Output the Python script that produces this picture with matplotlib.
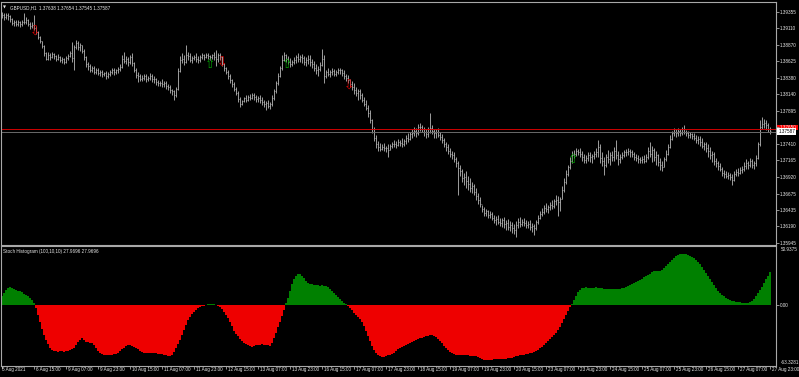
import matplotlib

matplotlib.use("Agg")

import matplotlib.pyplot as plt
from matplotlib.collections import LineCollection
from matplotlib.patches import Rectangle
from matplotlib.transforms import blended_transform_factory

plt.rcParams["font.family"] = ["Liberation Sans", "DejaVu Sans"]

# prices are stored in pips above BASE
BASE = 1.35
PIP = 0.0001

high = [
    435, 433, 434, 433, 430, 426, 424, 423, 424, 422,
    424, 434, 427, 425, 420, 421, 431, 414, 407, 399,
    393, 386, 376, 376, 374, 376, 375, 372, 373, 370,
    369, 367, 370, 373, 378, 391, 387, 394, 392, 390,
    387, 380, 370, 362, 358, 356, 355, 352, 353, 350,
    350, 347, 348, 346, 350, 352, 353, 351, 354, 358,
    372, 376, 370, 368, 372, 374, 362, 352, 346, 344,
    342, 344, 343, 340, 345, 343, 340, 338, 335, 334,
    336, 333, 333, 329, 328, 322, 320, 324, 352, 370,
    374, 372, 387, 376, 374, 370, 372, 374, 370, 372,
    374, 373, 375, 374, 372, 373, 376, 379, 375, 374,
    370, 360, 354, 349, 343, 337, 332, 325, 318, 310,
    306, 310, 313, 312, 314, 316, 315, 313, 311, 312,
    310, 306, 304, 305, 303, 312, 322, 334, 345, 356,
    372, 376, 373, 370, 367, 364, 368, 372, 374, 371,
    373, 370, 368, 371, 372, 366, 363, 358, 356, 362,
    380, 371, 350, 352, 349, 353, 351, 349, 352, 353,
    351, 349, 344, 342, 336, 334, 330, 325, 322, 321,
    316, 310, 305, 298, 290, 278, 265, 254, 245, 242,
    240, 242, 238, 240, 241, 244, 246, 245, 248, 247,
    250, 248, 254, 256, 258, 262, 266, 264, 270, 272,
    269, 266, 262, 265, 286, 268, 263, 262, 264, 258,
    255, 250, 244, 240, 234, 230, 228, 222, 215, 210,
    204, 198, 200, 194, 190, 184, 182, 175, 168, 162,
    150, 148, 144, 143, 141, 140, 136, 134, 136, 131,
    132, 133, 128, 130, 127, 126, 122, 127, 131, 133,
    130, 132, 129, 127, 128, 124, 122, 128, 136, 142,
    146, 150, 154, 150, 155, 158, 160, 166, 164, 162,
    178, 190, 202, 210, 222, 230, 232, 235, 233, 234,
    230, 226, 224, 228, 229, 226, 230, 234, 246, 240,
    228, 222, 226, 232, 228, 230, 236, 246, 230, 226,
    228, 232, 233, 234, 233, 231, 228, 226, 224, 222,
    223, 225, 226, 236, 243, 238, 235, 230, 226, 220,
    216, 222, 232, 240, 254, 260, 264, 262, 264, 263,
    266, 268, 261, 259, 258, 257, 256, 254, 252, 252,
    250, 244, 244, 240, 236, 230, 228, 220, 215, 212,
    206, 202, 200, 199, 198, 196, 200, 204, 205, 206,
    208, 214, 218, 216, 220, 218, 216, 224, 244, 276,
    280, 278, 276, 272, 265,
]

low = [
    426, 424, 425, 424, 421, 416, 415, 414, 415, 413,
    415, 417, 418, 414, 410, 411, 408, 402, 395, 389,
    382, 370, 364, 365, 364, 367, 366, 363, 364, 361,
    360, 358, 360, 365, 368, 362, 350, 381, 379, 378,
    374, 365, 354, 350, 346, 347, 344, 343, 342, 340,
    339, 340, 337, 338, 341, 343, 342, 344, 345, 348,
    352, 360, 359, 356, 359, 356, 346, 338, 332, 333,
    333, 335, 332, 333, 335, 332, 331, 328, 326, 326,
    325, 324, 322, 320, 316, 312, 306, 310, 320, 346,
    360, 357, 360, 364, 361, 360, 364, 362, 360, 362,
    366, 365, 367, 366, 364, 366, 364, 355, 362, 364,
    355, 348, 343, 337, 330, 325, 318, 313, 303, 295,
    298, 302, 303, 304, 305, 307, 306, 303, 302, 301,
    298, 295, 291, 294, 292, 296, 306, 316, 328, 339,
    350, 363, 362, 358, 354, 355, 358, 360, 362, 361,
    360, 357, 356, 358, 356, 352, 348, 343, 341, 348,
    356, 331, 338, 340, 339, 342, 340, 340, 343, 344,
    341, 337, 333, 331, 325, 320, 314, 311, 305, 307,
    302, 296, 290, 281, 272, 257, 245, 234, 230, 230,
    231, 230, 229, 221, 231, 234, 236, 235, 237, 237,
    236, 238, 241, 244, 246, 250, 253, 251, 254, 260,
    258, 252, 249, 251, 256, 255, 250, 250, 251, 247,
    242, 236, 230, 226, 222, 219, 214, 207, 165, 194,
    185, 180, 176, 172, 170, 168, 165, 158, 152, 147,
    140, 135, 134, 132, 131, 128, 124, 121, 122, 119,
    118, 117, 114, 113, 112, 110, 108, 103, 116, 118,
    119, 120, 117, 116, 113, 111, 106, 114, 122, 130,
    134, 137, 140, 139, 143, 144, 146, 150, 135, 142,
    160, 170, 182, 194, 204, 212, 220, 223, 224, 222,
    215, 212, 213, 216, 214, 212, 218, 221, 222, 212,
    208, 195, 206, 212, 210, 215, 216, 218, 209, 213,
    218, 222, 223, 225, 222, 221, 217, 215, 213, 212,
    213, 212, 214, 218, 221, 214, 216, 210, 208, 202,
    200, 206, 215, 224, 234, 246, 252, 251, 253, 252,
    254, 255, 252, 250, 249, 248, 246, 242, 240, 238,
    234, 232, 228, 222, 218, 214, 210, 206, 202, 200,
    194, 191, 190, 189, 188, 180, 186, 193, 194, 196,
    197, 200, 204, 203, 206, 205, 204, 208, 218, 238,
    262, 264, 261, 258, 255,
]

close = [
    430, 428, 431, 429, 425, 419, 421, 418, 420, 417,
    420, 421, 423, 418, 414, 416, 412, 405, 398, 392,
    385, 374, 366, 372, 368, 373, 370, 366, 369, 364,
    366, 361, 367, 370, 374, 367, 384, 389, 383, 386,
    378, 368, 358, 355, 350, 352, 347, 349, 345, 346,
    343, 345, 341, 344, 347, 349, 346, 349, 351, 354,
    366, 363, 366, 362, 368, 360, 350, 342, 340, 337,
    338, 340, 336, 338, 341, 336, 337, 332, 330, 331,
    329, 330, 326, 324, 320, 318, 312, 321, 348, 364,
    366, 362, 372, 370, 365, 367, 369, 366, 364, 369,
    371, 369, 372, 370, 368, 371, 369, 366, 372, 368,
    358, 352, 346, 340, 335, 329, 322, 316, 307, 300,
    304, 308, 306, 310, 309, 312, 310, 307, 309, 305,
    302, 299, 301, 297, 300, 308, 318, 330, 341, 352,
    365, 371, 366, 362, 358, 361, 364, 369, 366, 368,
    367, 362, 364, 366, 362, 358, 353, 350, 351, 357,
    366, 340, 346, 344, 346, 348, 344, 346, 349, 350,
    345, 341, 338, 335, 329, 324, 320, 316, 318, 312,
    306, 300, 294, 286, 276, 262, 250, 240, 236, 233,
    236, 234, 235, 232, 238, 240, 241, 239, 244, 242,
    240, 245, 250, 248, 255, 257, 260, 256, 265, 266,
    262, 258, 255, 262, 264, 259, 256, 258, 254, 251,
    246, 240, 236, 230, 226, 224, 218, 212, 205, 200,
    190, 192, 186, 182, 176, 178, 170, 164, 158, 152,
    144, 139, 141, 136, 138, 132, 128, 130, 126, 124,
    128, 122, 124, 118, 121, 116, 114, 121, 125, 122,
    126, 124, 121, 123, 118, 119, 116, 125, 132, 138,
    140, 146, 144, 147, 150, 149, 156, 158, 155, 160,
    172, 185, 196, 206, 216, 224, 226, 230, 228, 226,
    222, 217, 220, 225, 221, 223, 226, 229, 236, 220,
    216, 210, 222, 218, 224, 221, 230, 224, 218, 221,
    225, 228, 229, 230, 228, 226, 222, 220, 218, 217,
    219, 216, 222, 230, 226, 232, 222, 224, 214, 210,
    206, 218, 226, 236, 248, 256, 258, 256, 260, 257,
    262, 258, 256, 254, 255, 252, 250, 246, 248, 243,
    238, 240, 234, 230, 224, 226, 216, 212, 208, 203,
    198, 196, 194, 195, 192, 188, 196, 199, 198, 202,
    204, 208, 212, 210, 216, 209, 212, 220, 240, 266,
    270, 272, 268, 262, 259,
]

stoch = [
    9, 12, 15, 17, 18, 17, 16, 15, 14, 14,
    13, 11, 10, 9, 7, 5, 2, -3, -10, -17,
    -24, -30, -35, -39, -43, -45, -46, -46, -47, -46,
    -46, -47, -46, -46, -45, -44, -43, -40, -37, -35,
    -33, -35, -37, -37, -38, -38, -40, -43, -46, -48,
    -49, -50, -50, -50, -50, -50, -49, -49, -48, -46,
    -44, -43, -41, -40, -40, -41, -42, -43, -44, -46,
    -47, -48, -48, -48, -48, -48, -48, -48, -49, -49,
    -49, -50, -50, -51, -51, -50, -47, -43, -39, -35,
    -30, -25, -20, -15, -12, -9, -7, -5, -3, -2,
    -1, -1, 0, 1, 1, 1, 1, 0, -1, -2,
    -4, -7, -10, -13, -17, -21, -26, -29, -31, -34,
    -36, -38, -39, -40, -41, -42, -41, -40, -40, -40,
    -39, -40, -40, -40, -41, -38, -33, -28, -22, -17,
    -11, -5, 2, 7, 14, 21, 26, 29, 31, 31,
    29, 27, 24, 22, 21, 21, 20, 20, 20, 19,
    20, 19, 19, 18, 16, 14, 12, 10, 8, 6,
    4, 2, 1, -1, -3, -5, -8, -10, -12, -14,
    -17, -21, -26, -31, -36, -41, -45, -48, -50, -51,
    -52, -52, -51, -50, -50, -49, -48, -46, -44, -43,
    -42, -41, -40, -39, -38, -37, -36, -35, -34, -33,
    -33, -32, -31, -31, -30, -30, -31, -32, -34, -36,
    -38, -41, -43, -45, -47, -48, -49, -50, -50, -50,
    -50, -50, -50, -50, -51, -51, -51, -51, -52, -53,
    -54, -55, -55, -55, -55, -55, -54, -54, -54, -54,
    -54, -54, -54, -53, -53, -53, -52, -51, -51, -50,
    -50, -50, -49, -49, -48, -48, -47, -46, -45, -43,
    -42, -40, -38, -36, -34, -32, -30, -28, -25, -22,
    -18, -14, -10, -6, -2, 1, 5, 9, 13, 15,
    17, 17, 18, 17, 17, 17, 17, 18, 17, 17,
    17, 16, 16, 16, 16, 16, 16, 16, 16, 16,
    17, 17, 18, 19, 20, 21, 22, 23, 24, 25,
    26, 28, 29, 30, 31, 33, 34, 34, 34, 34,
    35, 37, 39, 41, 43, 45, 47, 49, 50, 51,
    51, 51, 51, 50, 49, 48, 47, 45, 43, 41,
    38, 35, 32, 29, 26, 23, 20, 17, 14, 12,
    10, 9, 7, 6, 5, 4, 4, 3, 3, 3,
    2, 2, 2, 2, 3, 4, 6, 9, 12, 15,
    18, 22, 26, 29, 33,
]

time_labels = [
    "5 Aug 2021", "6 Aug 15:00", "9 Aug 07:00", "9 Aug 23:00", "10 Aug 15:00",
    "11 Aug 07:00", "11 Aug 23:00", "12 Aug 15:00", "13 Aug 07:00", "13 Aug 23:00",
    "16 Aug 15:00", "17 Aug 07:00", "17 Aug 23:00", "18 Aug 15:00", "19 Aug 07:00",
    "19 Aug 23:00", "20 Aug 15:00", "23 Aug 07:00", "23 Aug 23:00", "24 Aug 15:00",
    "25 Aug 07:00", "25 Aug 23:00", "26 Aug 15:00", "27 Aug 07:00", "27 Aug 23:00",
]
time_label_step = 16  # one label every 16 bars

price_ticks = [
    1.39355, 1.39110, 1.38870, 1.38625, 1.38380, 1.38140, 1.37895, 1.37650,
    1.37410, 1.37165, 1.36920, 1.36675, 1.36435, 1.36190, 1.35945,
]

buy_bars = [104, 142.5, 285.5]
buy_prices = [1.3857, 1.3857, 1.3717]
sell_bars = [16.5, 110, 173.5]
sell_prices = [1.3905, 1.3860, 1.3826]

last_ohlc = ["1.37638", "1.37654", "1.37545", "1.37587"]
bid = 1.37587
ask = 1.37620
stoch_last = "27.9696"
stoch_max_label = "50.9375"
stoch_min_label = "-63.3281"

FG = "#e8e8e8"
FRAME = "#a8a8a8"
BAR = "#b8b8b8"
TICK = "#707070"
FS = 3.35

W, H = 799, 377
fig = plt.figure(figsize=(W / 100, H / 100), dpi=100, facecolor="black")


def px_axes(x0, y0, x1, y1):
    return fig.add_axes([x0 / W, 1 - y1 / H, (x1 - x0) / W, (y1 - y0) / H], facecolor="black")


ax = px_axes(1, 2, 776, 245)
ax_ind = px_axes(1, 246, 776, 366)

n = len(close)
hi = [BASE + v * PIP for v in high]
lo = [BASE + v * PIP for v in low]
cl = [BASE + v * PIP for v in close]
op = [cl[0]] + cl[:-1]

stems = [[(i, lo[i]), (i, hi[i])] for i in range(n)]
ticks = []
for i in range(n):
    ticks.append([(i - 0.45, op[i]), (i, op[i])])
    ticks.append([(i, cl[i]), (i + 0.45, cl[i])])
ax.add_collection(LineCollection(ticks, colors=TICK, linewidths=0.6))
ax.add_collection(LineCollection(stems, colors=BAR, linewidths=0.6))

ax.axhline(ask, color="#d00000", lw=0.7)
ax.axhline(bid, color="#6a6a6a", lw=0.7)

for b, p in zip(buy_bars, buy_prices):
    ax.text(b, p, "\u21e7", color="#00a000", fontsize=9, ha="center", va="center",
            family="DejaVu Sans")
for b, p in zip(sell_bars, sell_prices):
    ax.text(b, p, "\u21e9", color="#e00000", fontsize=9, ha="center", va="center",
            family="DejaVu Sans")

ax.set_xlim(-0.5, 387)
ax.set_ylim(BASE + 91.6 * PIP, BASE + 449.8 * PIP)
ax.yaxis.tick_right()
ax.set_yticks(price_ticks)
ax.set_yticklabels([f"{p:.5f}" for p in price_ticks])
ax.set_xticks([])
ax.tick_params(axis="y", colors=FRAME, labelcolor=FG, labelsize=FS, length=2, width=0.6, pad=1)

ax.text(0.003, 0.978, "\u25bc", transform=ax.transAxes, color=FG, fontsize=2.8,
        va="center", ha="left", family="DejaVu Sans")
ax.text(0.012, 0.978, "GBPUSD,H1  " + " ".join(last_ohlc), transform=ax.transAxes,
        color=FG, fontsize=FS, va="center", ha="left")

# ask marker (mostly hidden) and bid box on the price scale
price_side = blended_transform_factory(ax.transAxes, ax.transData)
ax.add_patch(Rectangle((1.001, ask - 0.00004), 0.028, 0.00062, transform=price_side,
                       facecolor="#ff0000", edgecolor="none", clip_on=False))
ax.text(1.003, bid - 0.00003, f"{bid:.5f}", transform=price_side, color="black", fontsize=FS,
        va="center", ha="left", clip_on=False,
        bbox=dict(boxstyle="square,pad=0.2", fc="white", ec="none"))

# indicator window
idx = list(range(n))
pos = [v if v > 0 else 0 for v in stoch]
neg = [v if v < 0 else 0 for v in stoch]
ax_ind.bar(idx, pos, width=0.55, color="#008000", linewidth=0)
ax_ind.bar(idx, neg, width=0.55, color="#ee0000", linewidth=0)
ax_ind.set_xlim(-0.5, 387)
ax_ind.set_ylim(-61, 59)
ax_ind.yaxis.tick_right()
ax_ind.set_yticks([0])
ax_ind.set_yticklabels(["0.00"])
ax_ind.tick_params(axis="y", colors=FRAME, labelcolor=FG, labelsize=FS, length=2, width=0.6, pad=1)
ax_ind.text(1.0065, 0.995, stoch_max_label, transform=ax_ind.transAxes, color=FG, fontsize=FS,
            va="top", ha="left")
ax_ind.text(1.0065, 0.01, stoch_min_label, transform=ax_ind.transAxes, color=FG, fontsize=FS,
            va="bottom", ha="left")
ax_ind.text(0.003, 0.955, f"Stoch Histogram (100,10,10) {stoch_last} {stoch_last}",
            transform=ax_ind.transAxes, color=FG, fontsize=FS, va="center", ha="left")

tick_pos = [k * time_label_step for k in range(len(time_labels))]
ax_ind.set_xticks(tick_pos)
ax_ind.set_xticklabels([])
ax_ind.tick_params(axis="x", colors=FRAME, length=2.5, width=0.6, direction="out")
tx = blended_transform_factory(ax_ind.transData, ax_ind.transAxes)
for k, (t, lab) in enumerate(zip(tick_pos, time_labels)):
    ax_ind.text(t + (0 if k == 0 else 1.0), -0.028, lab, transform=tx, color=FG, fontsize=FS,
                va="center", ha="left", clip_on=False)

for a in (ax, ax_ind):
    for s in a.spines.values():
        s.set_color(FRAME)
        s.set_linewidth(0.8)

fig.savefig("out.png", dpi=100, facecolor="black")
